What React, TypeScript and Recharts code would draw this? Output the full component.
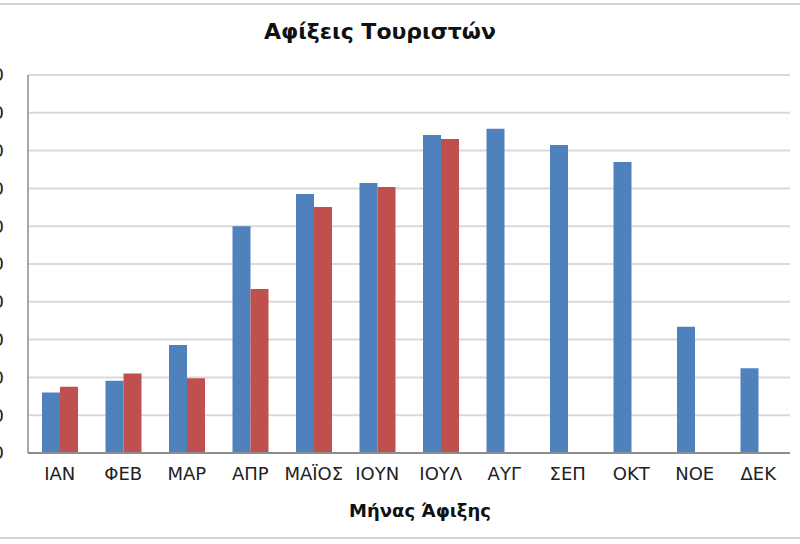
import React from "react";
import { BarChart, Bar, XAxis, YAxis, CartesianGrid } from "recharts";

const months = ["ΙΑΝ", "ΦΕΒ", "ΜΑΡ", "ΑΠΡ", "ΜΑΪΟΣ", "ΙΟΥΝ", "ΙΟΥΛ", "ΑΥΓ", "ΣΕΠ", "ΟΚΤ", "ΝΟΕ", "ΔΕΚ"];
const seriesA = [160, 191, 286, 600, 685, 714, 841, 858, 815, 770, 334, 224];
const seriesB: (number | null)[] = [175, 210, 198, 434, 651, 704, 831, null, null, null, null, null];
const yTicks = [0, 100, 200, 300, 400, 500, 600, 700, 800, 900, 1000];

const data = months.map((m, i) => ({ name: m, a: seriesA[i], b: seriesB[i] }));

const font = "'DejaVu Sans', Verdana, sans-serif";

const App = () => {
    return (
        <div style={{ position: "absolute", left: 0, top: 0, width: 800, height: 544, background: "#fff", fontFamily: font }}>
            <div style={{ position: "absolute", left: 0, top: 3, width: 800, height: 536, borderTop: "2px solid #cfd6dd", borderBottom: "2px solid #cfd6dd", boxSizing: "border-box" }} />
            <div style={{ position: "absolute", left: 0, width: 760, top: 19, textAlign: "center", fontSize: 22, fontWeight: "bold", color: "#111" }}>
                Αφίξεις Τουριστών
            </div>
            <BarChart
                width={800}
                height={544}
                data={data}
                margin={{ top: 75, right: 10, bottom: 61, left: 0 }}
                barGap={0}
                barSize={18}
            >
                <CartesianGrid vertical={false} stroke="#d9d9d9" strokeWidth={2} />
                <XAxis
                    dataKey="name"
                    height={30}
                    tickLine={false}
                    tickSize={0}
                    tickMargin={14}
                    axisLine={{ stroke: "#8c8c8c", strokeWidth: 2 }}
                    tick={{ fill: "#222", fontSize: 18, fontFamily: font }}
                    interval={0}
                />
                <YAxis
                    width={28}
                    domain={[0, 1000]}
                    ticks={yTicks}
                    tickLine={false}
                    tickSize={0}
                    tickMargin={24}
                    axisLine={{ stroke: "#8c8c8c", strokeWidth: 1.5 }}
                    tick={{ fill: "#222", fontSize: 18, fontFamily: font }}
                />
                <Bar dataKey="a" fill="#4f81bd" isAnimationActive={false} />
                <Bar dataKey="b" fill="#c0504d" isAnimationActive={false} />
            </BarChart>
            <div style={{ position: "absolute", left: 320, width: 200, top: 500, textAlign: "center", fontSize: 18, fontWeight: "bold", color: "#111" }}>
                Μήνας Άφιξης
            </div>
        </div>
    );
};

export default App;
